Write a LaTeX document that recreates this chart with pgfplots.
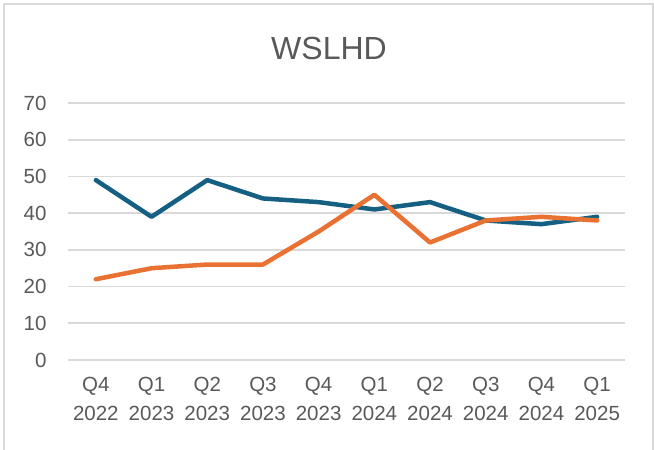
\documentclass[border=0pt]{standalone}
\usepackage{pgfplots}
\pgfplotsset{compat=1.18}
\usepackage{fontspec}
\setmainfont{Liberation Sans}
\definecolor{serblue}{HTML}{156082}
\definecolor{serorange}{HTML}{E97132}
\definecolor{txtgray}{HTML}{595959}
\definecolor{gridgray}{HTML}{D9D9D9}
\begin{document}
\begin{tikzpicture}[x=1pt,y=1pt]
\useasboundingbox (0,0) rectangle (654,450);
\draw[gridgray, line width=1.2pt] (4,0) -- (4,446) -- (653,446) -- (653,0);
\node[anchor=base, text=txtgray, font=\fontsize{32}{38}\selectfont] at (329,390.7) {WSLHD};
\begin{axis}[
  at={(68pt,90pt)}, anchor=south west,
  scale only axis, width=557pt, height=257pt,
  xmin=-0.5, xmax=9.5, ymin=0, ymax=70,
  ytick={0,10,...,70},
  xtick={0,...,9},
  xticklabels={Q4\\2022,Q1\\2023,Q2\\2023,Q3\\2023,Q4\\2023,Q1\\2024,Q2\\2024,Q3\\2024,Q4\\2024,Q1\\2025},
  ymajorgrids, grid style={gridgray, line width=1.7pt},
  axis line style={draw=none},
  major tick style={draw=none},
  /pgf/number format/assume math mode=true,
  xticklabel style={align=center, text=txtgray, font=\fontsize{20.5}{29}\selectfont, yshift=-14pt},
  yticklabel style={text=txtgray, font=\fontsize{20.5}{24}\selectfont, xshift=-18pt},
  clip=false,
]
\addplot[serblue, line width=4.5pt, line join=round, line cap=round] coordinates {
(0,49) (1,39) (2,49) (3,44) (4,43) (5,41) (6,43) (7,38) (8,37) (9,39)};
\addplot[serorange, line width=4.5pt, line join=round, line cap=round] coordinates {
(0,22) (1,25) (2,26) (3,26) (4,35) (5,45) (6,32) (7,38) (8,39) (9,38)};
\end{axis}
\end{tikzpicture}
\end{document}
